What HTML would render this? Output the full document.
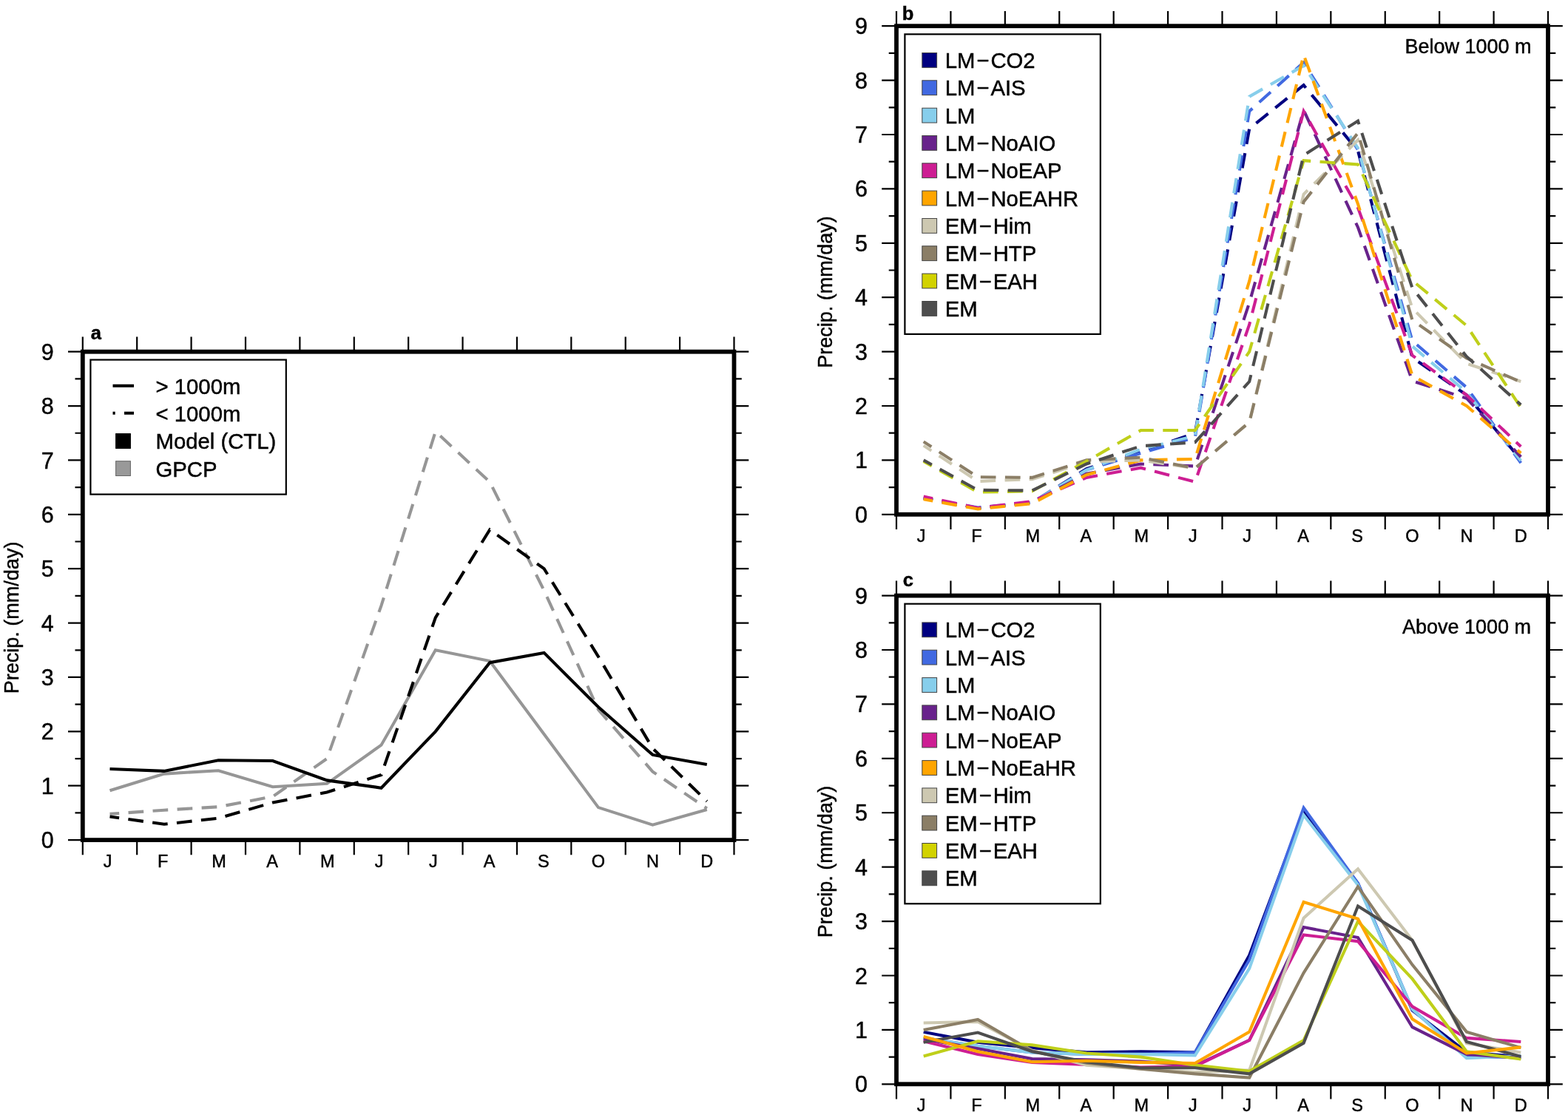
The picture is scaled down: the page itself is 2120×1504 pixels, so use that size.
<!DOCTYPE html>
<html lang="en"><head><meta charset="utf-8"><title>Seasonal cycle of precipitation</title>
<style>
html,body{margin:0;padding:0;background:#fff;}
body{width:2120px;height:1504px;overflow:hidden;}
svg{display:block;font-family:"Liberation Sans", sans-serif;fill:#000;}
text{stroke:#000;stroke-width:0.45px;}
</style></head><body>
<svg width="2120" height="1504" viewBox="0 0 2120 1504">
<rect width="2120" height="1504" fill="#fff"/>
<path d="M111.80 475.70v-20.2M111.80 1136.10v20.2M185.19 475.70v-20.2M185.19 1136.10v20.2M258.58 475.70v-20.2M258.58 1136.10v20.2M331.98 475.70v-20.2M331.98 1136.10v20.2M405.37 475.70v-20.2M405.37 1136.10v20.2M478.76 475.70v-20.2M478.76 1136.10v20.2M552.15 475.70v-20.2M552.15 1136.10v20.2M625.54 475.70v-20.2M625.54 1136.10v20.2M698.93 475.70v-20.2M698.93 1136.10v20.2M772.32 475.70v-20.2M772.32 1136.10v20.2M845.72 475.70v-20.2M845.72 1136.10v20.2M919.11 475.70v-20.2M919.11 1136.10v20.2M992.50 475.70v-20.2M992.50 1136.10v20.2M111.80 1136.10h-19.8M992.50 1136.10h19.8M111.80 1099.41h-10.3M992.50 1099.41h10.3M111.80 1062.72h-19.8M992.50 1062.72h19.8M111.80 1026.03h-10.3M992.50 1026.03h10.3M111.80 989.34h-19.8M992.50 989.34h19.8M111.80 952.66h-10.3M992.50 952.66h10.3M111.80 915.97h-19.8M992.50 915.97h19.8M111.80 879.28h-10.3M992.50 879.28h10.3M111.80 842.59h-19.8M992.50 842.59h19.8M111.80 805.90h-10.3M992.50 805.90h10.3M111.80 769.21h-19.8M992.50 769.21h19.8M111.80 732.52h-10.3M992.50 732.52h10.3M111.80 695.83h-19.8M992.50 695.83h19.8M111.80 659.14h-10.3M992.50 659.14h10.3M111.80 622.46h-19.8M992.50 622.46h19.8M111.80 585.77h-10.3M992.50 585.77h10.3M111.80 549.08h-19.8M992.50 549.08h19.8M111.80 512.39h-10.3M992.50 512.39h10.3M111.80 475.70h-19.8M992.50 475.70h19.8" stroke="#000" stroke-width="2.2" fill="none"/>
<g font-size="30.5" text-anchor="end">
<text x="72.8" y="1147.1">0</text>
<text x="72.8" y="1073.7">1</text>
<text x="72.8" y="1000.3">2</text>
<text x="72.8" y="927.0">3</text>
<text x="72.8" y="853.6">4</text>
<text x="72.8" y="780.2">5</text>
<text x="72.8" y="706.8">6</text>
<text x="72.8" y="633.5">7</text>
<text x="72.8" y="560.1">8</text>
<text x="72.8" y="486.7">9</text>
</g>
<g font-size="23.5" text-anchor="middle">
<text x="145.5" y="1173.1">J</text>
<text x="220.3" y="1173.1">F</text>
<text x="296.1" y="1173.1">M</text>
<text x="368.1" y="1173.1">A</text>
<text x="442.9" y="1173.1">M</text>
<text x="512.5" y="1173.1">J</text>
<text x="585.8" y="1173.1">J</text>
<text x="661.6" y="1173.1">A</text>
<text x="734.8" y="1173.1">S</text>
<text x="809.0" y="1173.1">O</text>
<text x="882.4" y="1173.1">N</text>
<text x="955.8" y="1173.1">D</text>
</g>
<text font-size="27.0" text-anchor="middle" transform="translate(24.6 835.4) rotate(-90)">Precip. (mm/day)</text>
<g>
<polyline points="148.5,1069.3 221.9,1046.6 295.3,1042.2 368.7,1064.2 442.1,1059.8 515.5,1007.7 588.8,879.3 662.2,894.0 735.6,993.0 809.0,1092.1 882.4,1115.6 955.8,1095.0" fill="none" stroke="#969696" stroke-width="4.1" stroke-linejoin="miter" stroke-miterlimit="10"/>
<polyline points="148.5,1100.9 221.9,1095.7 295.3,1091.3 368.7,1077.4 442.1,1026.0 515.5,819.1 588.8,583.6 662.2,651.8 735.6,798.6 809.0,960.0 882.4,1043.6 955.8,1093.5" fill="none" stroke="#969696" stroke-width="4.1" stroke-dasharray="20.7 12.4" stroke-dashoffset="8" stroke-linejoin="miter" stroke-miterlimit="10"/>
<polyline points="148.5,1040.0 221.9,1042.9 295.3,1028.2 368.7,1029.0 442.1,1055.4 515.5,1065.7 588.8,989.3 662.2,896.2 735.6,882.9 809.0,956.3 882.4,1020.9 955.8,1034.1" fill="none" stroke="#000" stroke-width="4.1" stroke-linejoin="miter" stroke-miterlimit="10"/>
<polyline points="148.5,1104.5 221.9,1114.8 295.3,1106.7 368.7,1085.5 442.1,1071.5 515.5,1048.0 588.8,835.3 662.2,716.4 735.6,769.2 809.0,888.1 882.4,1012.1 955.8,1083.7" fill="none" stroke="#000" stroke-width="4.1" stroke-dasharray="20.7 12.4" stroke-dashoffset="8" stroke-linejoin="miter" stroke-miterlimit="10"/>
</g>
<rect x="111.80" y="475.70" width="880.70" height="660.40" fill="none" stroke="#000" stroke-width="5.8"/>
<rect x="122.4" y="486.6" width="264.4" height="182" fill="#fff" stroke="#000" stroke-width="2.2"/>
<path d="M152.5 521.8h28.5" stroke="#000" stroke-width="4.1"/>
<path d="M152.5 558.8h28.5" stroke="#000" stroke-width="4.1" stroke-dasharray="3.2 12.3 13 12"/>
<rect x="156.6" y="586.6" width="19.8" height="19.8" fill="#000" stroke="#000" stroke-width="1"/>
<rect x="156.6" y="623.7" width="19.8" height="19.8" fill="#999999" stroke="#666" stroke-width="1"/>
<g font-size="29.3">
<text x="210.5" y="533.2">&gt; 1000m</text>
<text x="210.5" y="570.3">&lt; 1000m</text>
<text x="210.5" y="607.4">Model (CTL)</text>
<text x="210.5" y="644.5">GPCP</text>
</g>
<text x="122.8" y="458.6" font-size="25.5" font-weight="bold">a</text>
<path d="M1212.00 35.20v-20.2M1212.00 695.80v20.2M1285.42 35.20v-20.2M1285.42 695.80v20.2M1358.83 35.20v-20.2M1358.83 695.80v20.2M1432.25 35.20v-20.2M1432.25 695.80v20.2M1505.67 35.20v-20.2M1505.67 695.80v20.2M1579.08 35.20v-20.2M1579.08 695.80v20.2M1652.50 35.20v-20.2M1652.50 695.80v20.2M1725.92 35.20v-20.2M1725.92 695.80v20.2M1799.33 35.20v-20.2M1799.33 695.80v20.2M1872.75 35.20v-20.2M1872.75 695.80v20.2M1946.17 35.20v-20.2M1946.17 695.80v20.2M2019.58 35.20v-20.2M2019.58 695.80v20.2M2093.00 35.20v-20.2M2093.00 695.80v20.2M1212.00 695.80h-19.8M2093.00 695.80h19.8M1212.00 659.10h-10.3M2093.00 659.10h10.3M1212.00 622.40h-19.8M2093.00 622.40h19.8M1212.00 585.70h-10.3M2093.00 585.70h10.3M1212.00 549.00h-19.8M2093.00 549.00h19.8M1212.00 512.30h-10.3M2093.00 512.30h10.3M1212.00 475.60h-19.8M2093.00 475.60h19.8M1212.00 438.90h-10.3M2093.00 438.90h10.3M1212.00 402.20h-19.8M2093.00 402.20h19.8M1212.00 365.50h-10.3M2093.00 365.50h10.3M1212.00 328.80h-19.8M2093.00 328.80h19.8M1212.00 292.10h-10.3M2093.00 292.10h10.3M1212.00 255.40h-19.8M2093.00 255.40h19.8M1212.00 218.70h-10.3M2093.00 218.70h10.3M1212.00 182.00h-19.8M2093.00 182.00h19.8M1212.00 145.30h-10.3M2093.00 145.30h10.3M1212.00 108.60h-19.8M2093.00 108.60h19.8M1212.00 71.90h-10.3M2093.00 71.90h10.3M1212.00 35.20h-19.8M2093.00 35.20h19.8" stroke="#000" stroke-width="2.2" fill="none"/>
<g font-size="30.5" text-anchor="end">
<text x="1173.0" y="706.8">0</text>
<text x="1173.0" y="633.4">1</text>
<text x="1173.0" y="560.0">2</text>
<text x="1173.0" y="486.6">3</text>
<text x="1173.0" y="413.2">4</text>
<text x="1173.0" y="339.8">5</text>
<text x="1173.0" y="266.4">6</text>
<text x="1173.0" y="193.0">7</text>
<text x="1173.0" y="119.6">8</text>
<text x="1173.0" y="46.2">9</text>
</g>
<g font-size="23.5" text-anchor="middle">
<text x="1245.7" y="732.8">J</text>
<text x="1320.5" y="732.8">F</text>
<text x="1396.3" y="732.8">M</text>
<text x="1468.4" y="732.8">A</text>
<text x="1543.2" y="732.8">M</text>
<text x="1612.8" y="732.8">J</text>
<text x="1686.2" y="732.8">J</text>
<text x="1762.0" y="732.8">A</text>
<text x="1835.2" y="732.8">S</text>
<text x="1909.5" y="732.8">O</text>
<text x="1982.9" y="732.8">N</text>
<text x="2056.3" y="732.8">D</text>
</g>
<text font-size="27.0" text-anchor="middle" transform="translate(1124.8 395.0) rotate(-90)">Precip. (mm/day)</text>
<g>
<polyline points="1248.7,673.8 1322.1,687.0 1395.5,679.7 1469.0,634.1 1542.4,611.4 1615.8,585.7 1689.2,173.9 1762.6,115.2 1836.0,204.0 1909.5,483.7 1982.9,534.3 2056.3,621.7" fill="none" stroke="#000080" stroke-width="4.1" stroke-dasharray="20.7 12.4" stroke-dashoffset="8" stroke-linejoin="miter" stroke-miterlimit="10"/>
<polyline points="1248.7,673.8 1322.1,687.0 1395.5,679.7 1469.0,635.6 1542.4,612.9 1615.8,591.6 1689.2,150.4 1762.6,84.4 1836.0,202.6 1909.5,460.9 1982.9,524.0 2056.3,626.1" fill="none" stroke="#4169E1" stroke-width="4.1" stroke-dasharray="20.7 12.4" stroke-dashoffset="8" stroke-linejoin="miter" stroke-miterlimit="10"/>
<polyline points="1248.7,673.8 1322.1,686.3 1395.5,679.7 1469.0,635.6 1542.4,607.7 1615.8,589.4 1689.2,130.6 1762.6,88.8 1836.0,200.4 1909.5,468.3 1982.9,530.6 2056.3,623.1" fill="none" stroke="#87CEEB" stroke-width="4.1" stroke-dasharray="20.7 12.4" stroke-dashoffset="8" stroke-linejoin="miter" stroke-miterlimit="10"/>
<polyline points="1248.7,673.8 1322.1,687.0 1395.5,679.7 1469.0,640.8 1542.4,627.5 1615.8,630.5 1689.2,409.5 1762.6,149.0 1836.0,307.5 1909.5,515.2 1982.9,538.7 2056.3,618.0" fill="none" stroke="#68228B" stroke-width="4.1" stroke-dasharray="20.7 12.4" stroke-dashoffset="8" stroke-linejoin="miter" stroke-miterlimit="10"/>
<polyline points="1248.7,671.6 1322.1,687.0 1395.5,678.2 1469.0,645.9 1542.4,632.7 1615.8,651.8 1689.2,438.9 1762.6,150.4 1836.0,281.1 1909.5,480.7 1982.9,534.3 2056.3,604.0" fill="none" stroke="#CD1E93" stroke-width="4.1" stroke-dasharray="20.7 12.4" stroke-dashoffset="8" stroke-linejoin="miter" stroke-miterlimit="10"/>
<polyline points="1248.7,675.2 1322.1,688.5 1395.5,681.1 1469.0,642.2 1542.4,622.4 1615.8,620.9 1689.2,380.2 1762.6,74.1 1836.0,276.0 1909.5,507.9 1982.9,549.0 2056.3,612.9" fill="none" stroke="#FFA500" stroke-width="4.1" stroke-dasharray="20.7 12.4" stroke-dashoffset="8" stroke-linejoin="miter" stroke-miterlimit="10"/>
<polyline points="1248.7,602.6 1322.1,651.0 1395.5,648.1 1469.0,624.6 1542.4,622.4 1615.8,633.4 1689.2,571.0 1762.6,262.7 1836.0,189.3 1909.5,416.9 1982.9,491.7 2056.3,516.0" fill="none" stroke="#CDC8B1" stroke-width="4.1" stroke-dasharray="20.7 12.4" stroke-dashoffset="8" stroke-linejoin="miter" stroke-miterlimit="10"/>
<polyline points="1248.7,597.4 1322.1,645.2 1395.5,645.9 1469.0,622.4 1542.4,618.7 1615.8,633.4 1689.2,571.0 1762.6,273.0 1836.0,179.8 1909.5,433.0 1982.9,484.4 2056.3,516.7" fill="none" stroke="#8B7E66" stroke-width="4.1" stroke-dasharray="20.7 12.4" stroke-dashoffset="8" stroke-linejoin="miter" stroke-miterlimit="10"/>
<polyline points="1248.7,623.9 1322.1,665.7 1395.5,664.2 1469.0,623.9 1542.4,582.0 1615.8,582.0 1689.2,475.6 1762.6,217.2 1836.0,222.4 1909.5,379.4 1982.9,440.4 2056.3,551.2" fill="none" stroke="#BFCF1A" stroke-width="4.1" stroke-dasharray="20.7 12.4" stroke-dashoffset="8" stroke-linejoin="miter" stroke-miterlimit="10"/>
<polyline points="1248.7,622.4 1322.1,662.8 1395.5,663.5 1469.0,627.5 1542.4,603.3 1615.8,598.2 1689.2,516.0 1762.6,209.9 1836.0,163.6 1909.5,389.7 1982.9,482.2 2056.3,547.5" fill="none" stroke="#4D4D4D" stroke-width="4.1" stroke-dasharray="20.7 12.4" stroke-dashoffset="8" stroke-linejoin="miter" stroke-miterlimit="10"/>
</g>
<rect x="1212.00" y="35.20" width="881.00" height="660.60" fill="none" stroke="#000" stroke-width="5.8"/>
<rect x="1223.4" y="46.3" width="264.4" height="405.6" fill="#fff" stroke="#000" stroke-width="2.2"/>
<g font-size="29.3">
<rect x="1246.8" y="71.5" width="19.8" height="19.8" fill="#000080" stroke="#444" stroke-width="1"/>
<text x="1277.7" y="91.9">LM<tspan dx="1.9">−</tspan><tspan dx="2.0">CO2</tspan></text>
<rect x="1246.8" y="108.8" width="19.8" height="19.8" fill="#4169E1" stroke="#444" stroke-width="1"/>
<text x="1277.7" y="129.2">LM<tspan dx="1.9">−</tspan><tspan dx="2.0">AIS</tspan></text>
<rect x="1246.8" y="146.2" width="19.8" height="19.8" fill="#87CEEB" stroke="#444" stroke-width="1"/>
<text x="1277.7" y="166.6">LM</text>
<rect x="1246.8" y="183.5" width="19.8" height="19.8" fill="#68228B" stroke="#444" stroke-width="1"/>
<text x="1277.7" y="203.9">LM<tspan dx="1.9">−</tspan><tspan dx="2.0">NoAIO</tspan></text>
<rect x="1246.8" y="220.8" width="19.8" height="19.8" fill="#CD1E93" stroke="#444" stroke-width="1"/>
<text x="1277.7" y="241.2">LM<tspan dx="1.9">−</tspan><tspan dx="2.0">NoEAP</tspan></text>
<rect x="1246.8" y="258.1" width="19.8" height="19.8" fill="#FFA500" stroke="#444" stroke-width="1"/>
<text x="1277.7" y="278.5">LM<tspan dx="1.9">−</tspan><tspan dx="2.0">NoEAHR</tspan></text>
<rect x="1246.8" y="295.5" width="19.8" height="19.8" fill="#CDC8B1" stroke="#444" stroke-width="1"/>
<text x="1277.7" y="315.9">EM<tspan dx="1.9">−</tspan><tspan dx="2.0">Him</tspan></text>
<rect x="1246.8" y="332.8" width="19.8" height="19.8" fill="#8B7E66" stroke="#444" stroke-width="1"/>
<text x="1277.7" y="353.2">EM<tspan dx="1.9">−</tspan><tspan dx="2.0">HTP</tspan></text>
<rect x="1246.8" y="370.1" width="19.8" height="19.8" fill="#D2D200" stroke="#444" stroke-width="1"/>
<text x="1277.7" y="390.5">EM<tspan dx="1.9">−</tspan><tspan dx="2.0">EAH</tspan></text>
<rect x="1246.8" y="407.5" width="19.8" height="19.8" fill="#4D4D4D" stroke="#444" stroke-width="1"/>
<text x="1277.7" y="427.9">EM</text>
</g>
<text x="1219.8" y="27.0" font-size="25.5" font-weight="bold">b</text>
<text x="2070.5" y="72" font-size="27" text-anchor="end">Below 1000 m</text>
<path d="M1212.00 805.60v-20.2M1212.00 1466.30v20.2M1285.42 805.60v-20.2M1285.42 1466.30v20.2M1358.83 805.60v-20.2M1358.83 1466.30v20.2M1432.25 805.60v-20.2M1432.25 1466.30v20.2M1505.67 805.60v-20.2M1505.67 1466.30v20.2M1579.08 805.60v-20.2M1579.08 1466.30v20.2M1652.50 805.60v-20.2M1652.50 1466.30v20.2M1725.92 805.60v-20.2M1725.92 1466.30v20.2M1799.33 805.60v-20.2M1799.33 1466.30v20.2M1872.75 805.60v-20.2M1872.75 1466.30v20.2M1946.17 805.60v-20.2M1946.17 1466.30v20.2M2019.58 805.60v-20.2M2019.58 1466.30v20.2M2093.00 805.60v-20.2M2093.00 1466.30v20.2M1212.00 1466.30h-19.8M2093.00 1466.30h19.8M1212.00 1429.59h-10.3M2093.00 1429.59h10.3M1212.00 1392.89h-19.8M2093.00 1392.89h19.8M1212.00 1356.18h-10.3M2093.00 1356.18h10.3M1212.00 1319.48h-19.8M2093.00 1319.48h19.8M1212.00 1282.77h-10.3M2093.00 1282.77h10.3M1212.00 1246.07h-19.8M2093.00 1246.07h19.8M1212.00 1209.36h-10.3M2093.00 1209.36h10.3M1212.00 1172.66h-19.8M2093.00 1172.66h19.8M1212.00 1135.95h-10.3M2093.00 1135.95h10.3M1212.00 1099.24h-19.8M2093.00 1099.24h19.8M1212.00 1062.54h-10.3M2093.00 1062.54h10.3M1212.00 1025.83h-19.8M2093.00 1025.83h19.8M1212.00 989.13h-10.3M2093.00 989.13h10.3M1212.00 952.42h-19.8M2093.00 952.42h19.8M1212.00 915.72h-10.3M2093.00 915.72h10.3M1212.00 879.01h-19.8M2093.00 879.01h19.8M1212.00 842.31h-10.3M2093.00 842.31h10.3M1212.00 805.60h-19.8M2093.00 805.60h19.8" stroke="#000" stroke-width="2.2" fill="none"/>
<g font-size="30.5" text-anchor="end">
<text x="1173.0" y="1477.3">0</text>
<text x="1173.0" y="1403.9">1</text>
<text x="1173.0" y="1330.5">2</text>
<text x="1173.0" y="1257.1">3</text>
<text x="1173.0" y="1183.7">4</text>
<text x="1173.0" y="1110.2">5</text>
<text x="1173.0" y="1036.8">6</text>
<text x="1173.0" y="963.4">7</text>
<text x="1173.0" y="890.0">8</text>
<text x="1173.0" y="816.6">9</text>
</g>
<g font-size="23.5" text-anchor="middle">
<text x="1245.7" y="1503.3">J</text>
<text x="1320.5" y="1503.3">F</text>
<text x="1396.3" y="1503.3">M</text>
<text x="1468.4" y="1503.3">A</text>
<text x="1543.2" y="1503.3">M</text>
<text x="1612.8" y="1503.3">J</text>
<text x="1686.2" y="1503.3">J</text>
<text x="1762.0" y="1503.3">A</text>
<text x="1835.2" y="1503.3">S</text>
<text x="1909.5" y="1503.3">O</text>
<text x="1982.9" y="1503.3">N</text>
<text x="2056.3" y="1503.3">D</text>
</g>
<text font-size="27.0" text-anchor="middle" transform="translate(1124.8 1165.5) rotate(-90)">Precip. (mm/day)</text>
<g>
<polyline points="1248.7,1395.8 1322.1,1409.8 1395.5,1417.1 1469.0,1423.4 1542.4,1422.3 1615.8,1423.4 1689.2,1291.9 1762.6,1097.0 1836.0,1194.7 1909.5,1366.5 1982.9,1423.0 2056.3,1429.6" fill="none" stroke="#000080" stroke-width="4.1" stroke-linejoin="miter" stroke-miterlimit="10"/>
<polyline points="1248.7,1403.9 1322.1,1414.9 1395.5,1423.4 1469.0,1425.9 1542.4,1425.9 1615.8,1423.4 1689.2,1298.2 1762.6,1092.6 1836.0,1194.7 1909.5,1365.0 1982.9,1429.6 2056.3,1429.6" fill="none" stroke="#4169E1" stroke-width="4.1" stroke-linejoin="miter" stroke-miterlimit="10"/>
<polyline points="1248.7,1403.9 1322.1,1414.9 1395.5,1423.4 1469.0,1425.9 1542.4,1425.9 1615.8,1427.4 1689.2,1309.9 1762.6,1102.5 1836.0,1196.9 1909.5,1365.0 1982.9,1431.1 2056.3,1428.1" fill="none" stroke="#87CEEB" stroke-width="4.1" stroke-linejoin="miter" stroke-miterlimit="10"/>
<polyline points="1248.7,1405.4 1322.1,1418.2 1395.5,1432.1 1469.0,1433.3 1542.4,1435.5 1615.8,1441.3 1689.2,1406.8 1762.6,1254.1 1836.0,1268.1 1909.5,1389.2 1982.9,1425.9 2056.3,1431.1" fill="none" stroke="#68228B" stroke-width="4.1" stroke-linejoin="miter" stroke-miterlimit="10"/>
<polyline points="1248.7,1408.3 1322.1,1425.9 1395.5,1436.9 1469.0,1439.9 1542.4,1443.5 1615.8,1442.1 1689.2,1407.0 1762.6,1264.4 1836.0,1273.2 1909.5,1361.3 1982.9,1403.9 2056.3,1409.0" fill="none" stroke="#CD1E93" stroke-width="4.1" stroke-linejoin="miter" stroke-miterlimit="10"/>
<polyline points="1248.7,1383.5 1322.1,1381.9 1395.5,1420.8 1469.0,1440.6 1542.4,1445.7 1615.8,1450.1 1689.2,1447.4 1762.6,1241.7 1836.0,1175.2 1909.5,1271.8 1982.9,1411.2 2056.3,1423.4" fill="none" stroke="#CDC8B1" stroke-width="4.1" stroke-linejoin="miter" stroke-miterlimit="10"/>
<polyline points="1248.7,1393.1 1322.1,1378.9 1395.5,1421.5 1469.0,1437.7 1542.4,1445.7 1615.8,1452.4 1689.2,1457.5 1762.6,1315.8 1836.0,1199.1 1909.5,1304.8 1982.9,1395.6 2056.3,1417.1" fill="none" stroke="#8B7E66" stroke-width="4.1" stroke-linejoin="miter" stroke-miterlimit="10"/>
<polyline points="1248.7,1428.4 1322.1,1408.3 1395.5,1413.4 1469.0,1424.5 1542.4,1429.6 1615.8,1440.6 1689.2,1448.7 1762.6,1407.0 1836.0,1246.1 1909.5,1323.9 1982.9,1422.3 2056.3,1432.5" fill="none" stroke="#BFCF1A" stroke-width="4.1" stroke-linejoin="miter" stroke-miterlimit="10"/>
<polyline points="1248.7,1409.8 1322.1,1396.6 1395.5,1422.3 1469.0,1436.2 1542.4,1444.3 1615.8,1444.3 1689.2,1452.4 1762.6,1410.7 1836.0,1225.5 1909.5,1271.8 1982.9,1409.0 2056.3,1428.9" fill="none" stroke="#4D4D4D" stroke-width="4.1" stroke-linejoin="miter" stroke-miterlimit="10"/>
<polyline points="1248.7,1401.9 1322.1,1422.3 1395.5,1436.2 1469.0,1434.7 1542.4,1436.9 1615.8,1438.0 1689.2,1395.6 1762.6,1220.0 1836.0,1242.8 1909.5,1378.2 1982.9,1424.5 2056.3,1416.4" fill="none" stroke="#FFA500" stroke-width="4.1" stroke-linejoin="miter" stroke-miterlimit="10"/>
</g>
<rect x="1212.00" y="805.60" width="881.00" height="660.70" fill="none" stroke="#000" stroke-width="5.8"/>
<rect x="1223.4" y="816.7" width="264.4" height="405.6" fill="#fff" stroke="#000" stroke-width="2.2"/>
<g font-size="29.3">
<rect x="1246.8" y="841.9" width="19.8" height="19.8" fill="#000080" stroke="#444" stroke-width="1"/>
<text x="1277.7" y="862.3">LM<tspan dx="1.9">−</tspan><tspan dx="2.0">CO2</tspan></text>
<rect x="1246.8" y="879.2" width="19.8" height="19.8" fill="#4169E1" stroke="#444" stroke-width="1"/>
<text x="1277.7" y="899.6">LM<tspan dx="1.9">−</tspan><tspan dx="2.0">AIS</tspan></text>
<rect x="1246.8" y="916.6" width="19.8" height="19.8" fill="#87CEEB" stroke="#444" stroke-width="1"/>
<text x="1277.7" y="937.0">LM</text>
<rect x="1246.8" y="953.9" width="19.8" height="19.8" fill="#68228B" stroke="#444" stroke-width="1"/>
<text x="1277.7" y="974.3">LM<tspan dx="1.9">−</tspan><tspan dx="2.0">NoAIO</tspan></text>
<rect x="1246.8" y="991.2" width="19.8" height="19.8" fill="#CD1E93" stroke="#444" stroke-width="1"/>
<text x="1277.7" y="1011.6">LM<tspan dx="1.9">−</tspan><tspan dx="2.0">NoEAP</tspan></text>
<rect x="1246.8" y="1028.6" width="19.8" height="19.8" fill="#FFA500" stroke="#444" stroke-width="1"/>
<text x="1277.7" y="1049.0">LM<tspan dx="1.9">−</tspan><tspan dx="2.0">NoEaHR</tspan></text>
<rect x="1246.8" y="1065.9" width="19.8" height="19.8" fill="#CDC8B1" stroke="#444" stroke-width="1"/>
<text x="1277.7" y="1086.3">EM<tspan dx="1.9">−</tspan><tspan dx="2.0">Him</tspan></text>
<rect x="1246.8" y="1103.2" width="19.8" height="19.8" fill="#8B7E66" stroke="#444" stroke-width="1"/>
<text x="1277.7" y="1123.6">EM<tspan dx="1.9">−</tspan><tspan dx="2.0">HTP</tspan></text>
<rect x="1246.8" y="1140.5" width="19.8" height="19.8" fill="#D2D200" stroke="#444" stroke-width="1"/>
<text x="1277.7" y="1160.9">EM<tspan dx="1.9">−</tspan><tspan dx="2.0">EAH</tspan></text>
<rect x="1246.8" y="1177.9" width="19.8" height="19.8" fill="#4D4D4D" stroke="#444" stroke-width="1"/>
<text x="1277.7" y="1198.3">EM</text>
</g>
<text x="1220.8" y="793.4" font-size="25.5" font-weight="bold">c</text>
<text x="2070" y="857.2" font-size="27" text-anchor="end">Above 1000 m</text>
</svg></body></html>
